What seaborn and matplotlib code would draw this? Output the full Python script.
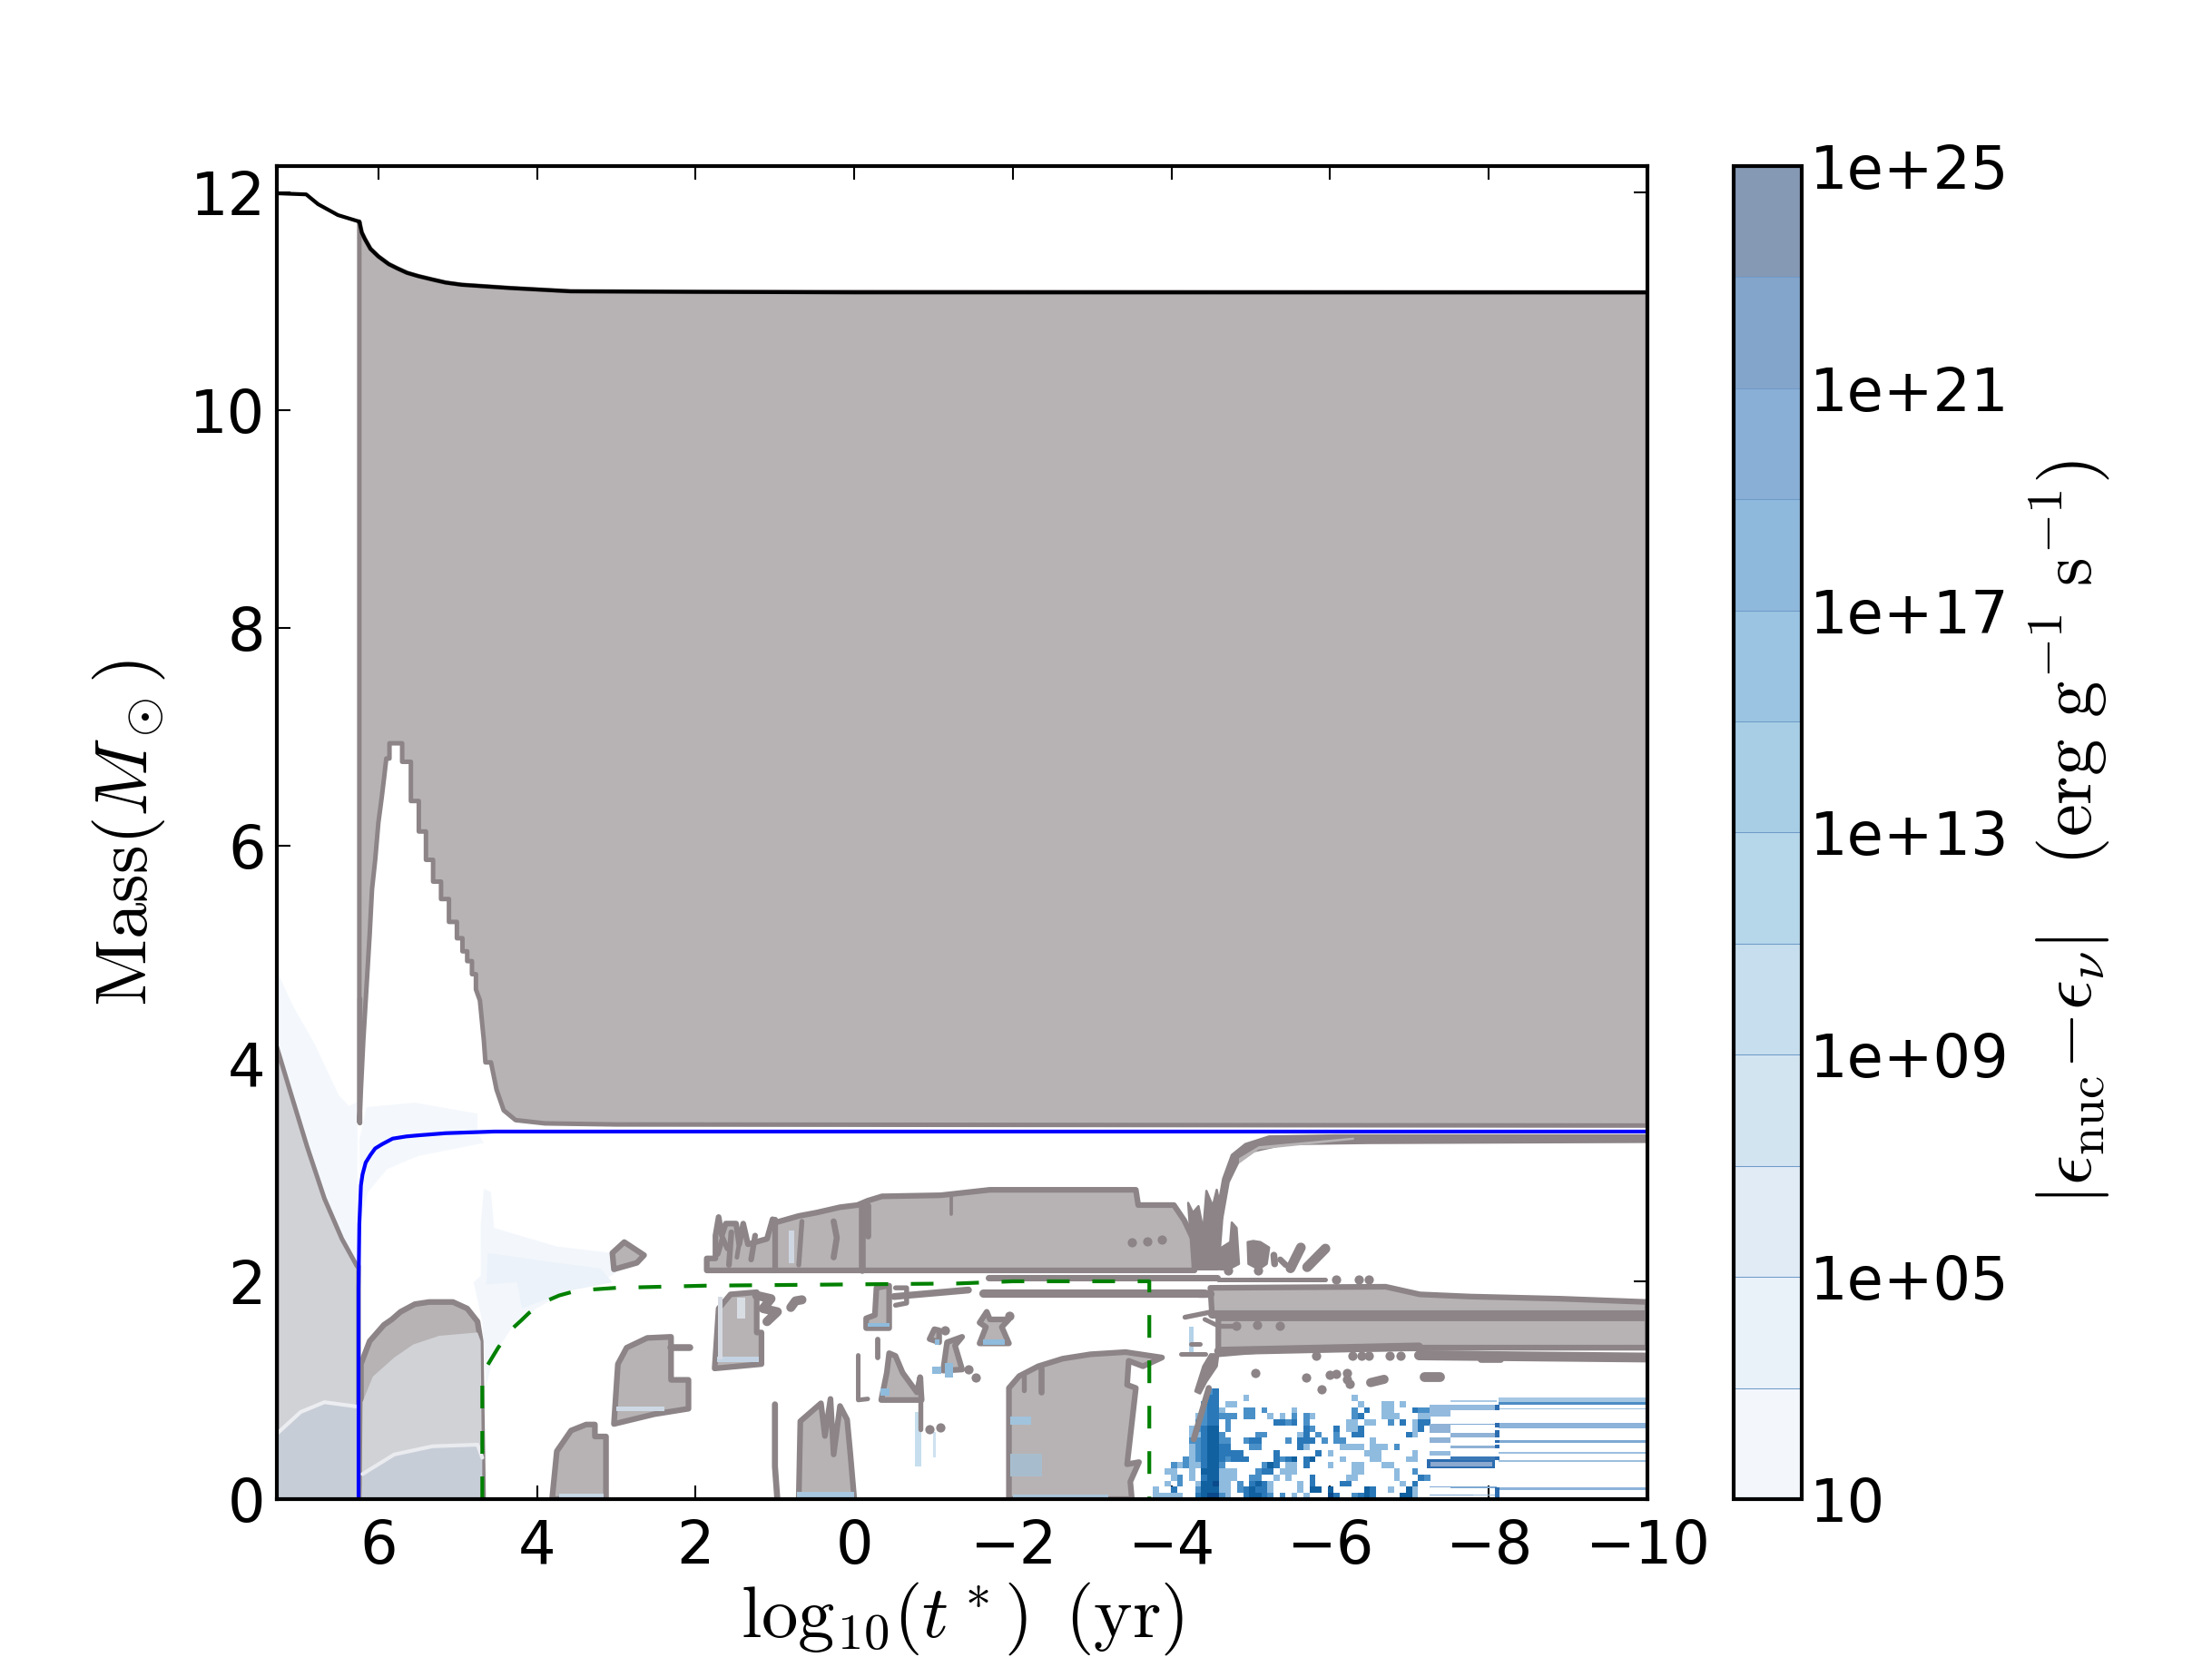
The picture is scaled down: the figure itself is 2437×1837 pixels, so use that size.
import numpy as np
import matplotlib
matplotlib.use('Agg')
import matplotlib.pyplot as plt
from matplotlib.colors import ListedColormap, BoundaryNorm
from matplotlib.cm import ScalarMappable
import seaborn as sns

## Data ##
# surface, he core and co core boundaries (log time, mass)
SURF_X = [7.28, 6.91, 6.76, 6.51, 6.24, 6.21, 6.17, 6.10, 6.0, 5.87, 5.76, 5.64, 5.5, 5.33, 5.15, 4.95, 4.34, 3.58, 2.0, 0.0, -10.0]
SURF_Y = [11.99, 11.98, 11.89, 11.79, 11.73, 11.63, 11.57, 11.48, 11.41, 11.34, 11.30, 11.26, 11.23, 11.20, 11.17, 11.15, 11.12, 11.09, 11.085, 11.08, 11.08]
HE_X = [6.25, 6.25, 6.24, 6.22, 6.20, 6.16, 6.10, 6.04, 5.95, 5.82, 5.65, 5.50, 5.15, 4.54, -10.0]
HE_Y = [0.0, 1.93, 2.52, 2.88, 2.98, 3.09, 3.16, 3.22, 3.26, 3.31, 3.33, 3.34, 3.36, 3.375, 3.375]
CO_X = [4.69, 4.69, 4.49, 4.40, 4.32, 4.20, 4.10, 3.98, 3.88, 3.72, 3.57, 3.3, 3.0, 1.87, -1.3, -2.0, -3.72, -3.72]
CO_Y = [0.0, 1.15, 1.39, 1.48, 1.56, 1.64, 1.71, 1.77, 1.82, 1.87, 1.90, 1.925, 1.94, 1.96, 1.98, 2.0, 2.0, 0.0]

# convective envelope with the notch in it
ENVELOPE = [(6.24, 11.73), (6.21, 11.63), (6.17, 11.57), (6.10, 11.48), (6.0, 11.41), (5.87, 11.34), (5.76, 11.30), (5.64, 11.26), (5.5, 11.23), (5.33, 11.20), (5.15, 11.17), (4.95, 11.15),
            (4.34, 11.12), (3.58, 11.09), (2.0, 11.085), (-10.0, 11.08), (-10.0, 3.43), (3.0, 3.44), (3.90, 3.45),
            (4.27, 3.48), (4.42, 3.57), (4.51, 3.76), (4.58, 4.01), (4.65, 4.01), (4.67, 4.21), (4.72, 4.58),
            (4.77, 4.68), (4.77, 4.82), (4.82, 4.82), (4.82, 4.94), (4.88, 4.94), (4.88, 5.03), (4.94, 5.03),
            (4.94, 5.15), (5.01, 5.15), (5.01, 5.30), (5.11, 5.30), (5.11, 5.51), (5.21, 5.51), (5.21, 5.67),
            (5.31, 5.67), (5.31, 5.87), (5.40, 5.87), (5.40, 6.13), (5.49, 6.13), (5.49, 6.41), (5.59, 6.41),
            (5.59, 6.77), (5.70, 6.77), (5.70, 6.94), (5.86, 6.94), (5.86, 6.80), (5.90, 6.80), (5.93, 6.61),
            (5.96, 6.43), (6.00, 6.21), (6.04, 5.87), (6.08, 5.60), (6.11, 5.18), (6.19, 4.21), (6.24, 3.46)]

LEFT_ZONE = [(7.28, 0.0), (6.25, 0.0), (6.25, 2.14), (6.27, 2.14), (6.46, 2.39), (6.68, 2.76), (6.90, 3.24), (7.11, 3.74), (7.28, 4.15)]
LEFT_LOW = [(7.28, 0.0), (6.25, 0.0), (6.27, 0.85), (6.68, 0.89), (6.98, 0.80), (7.25, 0.62), (7.28, 0.60)]
CORE_ZONE = [(6.22, 0.0), (6.22, 1.24), (6.11, 1.45), (5.93, 1.60), (5.83, 1.65), (5.72, 1.72), (5.54, 1.79), (5.36, 1.81),
             (5.06, 1.81), (4.88, 1.75), (4.75, 1.63), (4.71, 1.45), (4.68, 0.0)]
CORE_MID = [(6.21, 0.0), (6.20, 0.89), (6.07, 1.125), (5.80, 1.30), (5.56, 1.42), (5.23, 1.50), (4.75, 1.53), (4.71, 1.45), (4.69, 0.0)]
CORE_LOW = [(6.21, 0.0), (6.20, 0.23), (5.80, 0.41), (5.32, 0.485), (4.75, 0.50), (4.69, 0.38), (4.69, 0.0)]
LEFT_BURN_X = [7.28, 7.25, 6.98, 6.68, 6.27]
LEFT_BURN_Y = [0.60, 0.62, 0.80, 0.89, 0.85]
CORE_BURN_X = [6.20, 5.80, 5.32, 4.75, 4.69]
CORE_BURN_Y = [0.23, 0.41, 0.485, 0.50, 0.38]

# faint burning haze
HAZE_A = [(7.28, 4.85), (7.07, 4.52), (6.81, 4.19), (6.50, 3.71), (6.37, 3.61), (6.26, 3.65), (6.27, 2.14), (6.46, 2.39),
          (6.68, 2.76), (6.90, 3.24), (7.11, 3.74), (7.28, 4.15)]
HAZE_B = [(6.15, 3.60), (5.54, 3.64), (4.75, 3.54), (4.75, 3.36), (4.67, 3.27), (5.50, 3.15), (5.89, 3.03), (6.13, 2.82), (6.22, 2.58), (6.24, 3.30)]
HAZE_C = [(4.67, 2.85), (4.58, 2.82), (4.54, 2.49), (3.75, 2.32), (3.05, 2.26), (3.00, 2.08), (3.20, 1.99), (3.62, 1.91), (4.01, 1.75),
          (4.32, 1.57), (4.54, 1.33), (4.64, 1.04), (4.69, 1.63), (4.80, 1.99), (4.71, 2.05), (4.71, 2.52)]
HAZE_D = [(4.62, 2.26), (3.75, 2.17), (3.20, 2.12), (3.05, 1.99), (3.62, 1.91), (4.19, 1.75), (4.25, 1.99), (4.64, 1.97)]

# convective islands
SHELL = [(1.86, 2.10), (1.86, 2.21), (1.75, 2.21), (1.75, 2.42), (1.71, 2.59), (1.67, 2.42), (1.62, 2.53), (1.49, 2.53), (1.45, 2.34),
         (1.40, 2.53), (1.34, 2.34), (1.10, 2.39), (1.03, 2.57), (0.99, 2.54), (0.70, 2.60), (0.48, 2.63), (0.18, 2.68), (-0.04, 2.70),
         (-0.17, 2.74), (-0.35, 2.78), (-1.09, 2.79), (-1.71, 2.84), (-3.55, 2.84), (-3.58, 2.70), (-4.03, 2.70), (-4.16, 2.56),
         (-4.29, 2.36), (-4.29, 2.10)]
ISLAND = [(3.03, 2.11), (3.05, 2.26), (2.90, 2.36), (2.65, 2.24), (2.74, 2.17)]
BLOB_A = [(3.03, 0.69), (2.98, 1.24), (2.87, 1.39), (2.61, 1.48), (2.31, 1.49), (2.31, 1.095), (2.09, 1.095), (2.09, 0.83), (2.52, 0.78)]
BLOB_B = [(3.81, 0.0), (3.75, 0.44), (3.57, 0.63), (3.38, 0.685), (3.27, 0.685), (3.27, 0.575), (3.13, 0.575), (3.13, 0.0)]
BLOB_C = [(1.76, 1.20), (1.71, 1.75), (1.56, 1.88), (1.23, 1.90), (1.23, 1.53), (1.17, 1.53), (1.17, 1.24)]
BLOB_D = [(0.70, 0.0), (0.68, 0.715), (0.42, 0.88), (0.37, 0.58), (0.30, 0.92), (0.26, 0.41), (0.18, 0.855), (0.09, 0.73), (0.05, 0.42), (0.0, 0.0)]
BLOB_E = [(-0.15, 1.57), (-0.15, 1.66), (-0.26, 1.69), (-0.28, 1.94), (-0.44, 1.96), (-0.44, 1.57)]
BLOB_F = [(-0.34, 0.91), (-0.41, 1.16), (-0.44, 1.34), (-0.52, 1.315), (-0.61, 1.16), (-0.79, 0.98), (-0.83, 1.12), (-0.85, 0.91)]
BLOB_G = [(-0.95, 1.47), (-1.01, 1.56), (-1.07, 1.55), (-1.07, 1.44)]
BLOB_H = [(-1.12, 1.18), (-1.17, 1.44), (-1.36, 1.49), (-1.27, 1.41), (-1.36, 1.19)]
BLOB_I = [(-1.58, 1.43), (-1.66, 1.58), (-1.58, 1.62), (-1.67, 1.72), (-1.71, 1.65), (-1.95, 1.65), (-1.86, 1.58), (-1.95, 1.43)]
BLOB_J = [(-1.95, 0.0), (-1.95, 1.02), (-2.08, 1.13), (-2.32, 1.22), (-2.63, 1.29), (-2.98, 1.33), (-3.42, 1.35), (-3.88, 1.30),
          (-3.64, 1.22), (-3.46, 1.27), (-3.44, 1.05), (-3.55, 1.02), (-3.44, 0.32), (-3.59, 0.34), (-3.48, 0.16), (-3.50, 0.0)]
UPPER_BAND = [(-4.49, 1.94), (-6.70, 1.95), (-7.13, 1.88), (-7.76, 1.86), (-8.90, 1.84), (-10.0, 1.81), (-10.0, 1.70), (-4.51, 1.70)]
LOWER_BAND = [(-4.59, 1.66), (-10.0, 1.66), (-10.0, 1.39), (-8.0, 1.39), (-6.5, 1.38), (-5.4, 1.38), (-4.59, 1.33)]
ISLANDS = [SHELL, ISLAND, BLOB_A, BLOB_B, BLOB_C, BLOB_D, BLOB_E, BLOB_F, BLOB_G, BLOB_H, BLOB_I, BLOB_J, UPPER_BAND, LOWER_BAND]

# solid dark patches around the -4.5 flash
BURST_A = [(-4.27, 2.11), (-4.21, 2.72), (-4.27, 2.63), (-4.34, 2.69), (-4.40, 2.47), (-4.44, 2.83), (-4.52, 2.69), (-4.57, 2.84), (-4.64, 2.58), (-4.59, 2.11)]
BURST_B = [(-4.61, 2.11), (-4.61, 2.30), (-4.74, 2.36), (-4.76, 2.54), (-4.82, 2.49), (-4.85, 2.16), (-4.72, 2.11)]
BURST_C = [(-4.97, 2.16), (-4.96, 2.36), (-5.03, 2.37), (-5.12, 2.36), (-5.23, 2.31), (-5.20, 2.16), (-5.10, 2.11)]
BURST_D = [(-4.59, 1.33), (-4.49, 1.33), (-4.40, 1.22), (-4.30, 0.99), (-4.36, 0.97), (-4.44, 1.08), (-4.57, 1.22)]
CURVE_BAND = [(-4.57, 2.61), (-4.65, 2.94), (-4.76, 3.16), (-4.93, 3.26), (-5.23, 3.33), (-6.07, 3.34), (-10.0, 3.34), (-10.0, 3.28),
              (-6.49, 3.27), (-5.44, 3.26), (-5.01, 3.19), (-4.84, 3.09), (-4.72, 2.91), (-4.64, 2.58)]
CURVE_LIGHT = [(-4.85, 3.13), (-5.10, 3.24), (-6.30, 3.32), (-6.30, 3.30), (-5.10, 3.21), (-4.85, 3.08)]
BURSTS = [BURST_A, BURST_B, BURST_C, BURST_D, CURVE_BAND]

# thick strokes: x list, y list, width
STROKES = [([-1.69, -4.58], [2.03, 2.03], 1.7), ([-4.59, -5.94], [2.02, 2.02], 1.2), ([-1.62, -4.42], [1.89, 1.89], 2.2),
           ([-0.50, -1.44], [1.86, 1.92], 1.8), ([-4.35, -4.49], [1.88, 1.88], 2.0), ([-4.51, -10.0], [1.70, 1.70], 2.2),
           ([-4.17, -4.51], [1.67, 1.72], 1.3), ([-4.42, -4.59], [1.65, 1.59], 1.2), ([-4.59, -4.82], [1.59, 1.59], 1.3),
           ([-4.59, -7.12], [1.36, 1.40], 2.2), ([-7.12, -10.0], [1.40, 1.40], 1.0), ([-7.12, -10.0], [1.32, 1.30], 2.6),
           ([-7.90, -8.15], [1.28, 1.28], 1.6), ([-5.29, -5.30], [2.24, 2.16], 1.8), ([-5.37, -5.44], [2.20, 2.15], 1.6),
           ([-5.50, -5.63], [2.12, 2.31], 2.6), ([-5.71, -5.94], [2.13, 2.30], 2.6), ([-6.51, -6.68], [1.07, 1.10], 2.4),
           ([-7.18, -7.38], [1.125, 1.125], 2.6), ([-4.28, -4.47], [0.55, 1.02], 1.6), ([-4.12, -4.43], [1.33, 1.33], 1.2),
           ([-4.24, -4.36], [1.425, 1.425], 1.2), ([1.0, 1.0, 0.97], [0.87, 0.30, 0.0], 1.6), ([-0.83, -0.83], [1.12, 0.645], 1.3),
           ([-0.05, -0.05, -0.17], [1.32, 0.91, 0.92], 1.2), ([-0.30, -0.30], [1.47, 1.30], 1.4), ([2.31, 2.07], [1.39, 1.39], 1.8),
           ([1.23, 1.05, 1.15, 0.97, 1.10], [1.87, 1.84, 1.75, 1.72, 1.63], 2.4), ([0.80, 0.74, 0.66], [1.76, 1.82, 1.83], 2.4),
           ([-0.52, -0.66, -0.66, -0.52], [1.94, 1.94, 1.80, 1.78], 1.3), ([1.0, 1.0], [2.10, 2.57], 1.5),
           ([-0.10, -0.10], [2.10, 2.70], 1.8), ([-0.17, -0.17], [2.42, 2.70], 1.6), ([0.26, 0.22, 0.26], [2.55, 2.40, 2.22], 1.6),
           ([1.58, 1.55], [2.15, 2.45], 1.5), ([1.30, 1.25], [2.20, 2.42], 1.5), ([-2.14, -2.14], [1.0, 1.13], 1.3), ([-2.36, -2.36], [0.98, 1.2], 1.6),
           ([1.72, 1.66, 1.60], [2.25, 2.40, 2.30], 1.4), ([1.48, 1.42], [2.22, 2.48], 1.2), ([0.70, 0.66], [2.15, 2.55], 1.3),
           ([-1.22, -1.22], [2.62, 2.78], 0.9), ([6.24, 6.24], [3.46, 4.6], 1.3)]
DOT_X = [-5.06, -5.70, -6.00, -6.08, -6.21, -6.21, -6.25, -5.89, -5.82, -6.28, -6.39, -6.49, -6.75, -6.89, -4.82, -5.08, -5.36, -4.71, -5.09,
         -6.07, -6.36, -6.49, -0.95, -1.09, -1.14, -1.44, -1.53, -1.96, -3.50, -3.70, -3.88]
DOT_Y = [1.16, 1.12, 1.14, 1.15, 1.155, 1.10, 1.055, 1.01, 1.32, 1.32, 1.32, 1.32, 1.32, 1.32, 1.59, 1.60, 1.59, 2.10, 2.10,
         2.02, 2.02, 2.02, 0.64, 0.66, 1.55, 1.195, 1.12, 1.68, 2.36, 2.37, 2.38]

# faint blue streaks inside the islands: x0, x1, y0, y1, colour
STREAK_LEFT = [3.0, 1.73, 1.72, 1.48, 0.83, -1.97, -1.97, -2.2, -0.76, -0.99, -0.98, 0.72, 3.72, -0.17, -0.33, -1.62, -1.02, -1.14, -3.1, -4.22]
STREAK_RIGHT = [2.39, 1.2, 1.66, 1.38, 0.76, -2.23, -2.37, -3.2, -0.84, -1.03, -1.10, 0.0, 3.16, -0.44, -0.45, -1.9, -1.07, -1.25, -2.0, -4.28]
STREAK_BOTTOM = [0.81, 1.26, 1.28, 1.66, 2.17, 0.68, 0.21, 0.01, 0.30, 0.38, 1.15, 0.02, 0.02, 1.58, 0.95, 1.42, 1.42, 1.12, 0.01, 1.32]
STREAK_TOP = [0.85, 1.31, 1.86, 1.85, 2.47, 0.76, 0.42, 0.04, 0.80, 0.62, 1.22, 0.07, 0.05, 1.62, 1.02, 1.47, 1.47, 1.25, 0.04, 1.58]
STREAK_COLOR = ['#cdd8e4', '#c3d3e3', '#d5dae2', '#d8dde4', '#ced6e1', '#a1c3dc', '#a7bdcd', '#a9c6dc', '#c6deed', '#cfe2f1', '#8fbbdc', '#a7c6df',
                '#c7d8e6', '#8fbbdc', '#8fbbdc', '#8fbbdc', '#8fbbdc', '#8fbbdc', '#a9c6dc', '#b4d2e8']

# burning speckle, one string per row from top to bottom
BURN_ROWS = [
    ".........bc",
    ".........cc....a.................a",
    "........bcc.aa....................a...aa.a",
    "........bcca...bb.b....a.........b.c..aa...cbb",
    ".......abccbbb.bb..a.a.b.ba......bc...aaa...aa",
    ".......bbcc.b.......ccbc.b......aa.aa..b.c.acc",
    "......abcdd.b............cb...c.aac........ac",
    "......aacddb.....bb.....ac.b..b..cc.......ca",
    "......bbcddbb..bcc....b.ccc.b.bb....a",
    "......abcddcc...bb......ca.....aaaa.aaa.b",
    "......abcddcccc.....c......c.a.....aaa.....a",
    ".....babcddcbccc....cbcd.cd....a....aa....aa",
    "...babaacddb......bdc.aa.c...a...aa...aa",
    "..aa..a.dddaaa...bcc.aaa.........aa.....a..b",
    "...ab.a.cddaaa..bb..a.a...c.....aa......a...cb",
    "..a.b..addeaa.b.cdca....a.c....cc........a.c",
    "a..c...bdddaa.bcdcca....a.dd.d.....dc..a..da",
    "aaaaa..cdeeba..cddcb.b.a.a...ec..bcdc....dda",
]
BURN_LEVELS = ".abcde"
BURN_COLORS = ['#8fbbdf', '#4a90c8', '#2a78b8', '#11609f', '#0a4a8c']
BURN_X_START = -3.764
BURN_X_STEP = -0.076
BURN_Y_TOP = 1.014

# horizontal burning layers after -7
BAR_X0 = [-7.25, -7.52, -7.52, -8.12, -8.12, -8.12, -7.25, -7.52, -8.12, -7.52, -7.25, -7.52, -8.12, -7.25, -8.12, -8.12, -7.22, -7.27, -7.52, -7.52, -7.25, -7.25, -7.80, -8.12, -8.12,
          -8.08, -8.08, -8.08, -8.08, -8.08, -8.08, -8.08, -8.08]
BAR_X1 = [-7.52, -8.10, -8.10, -10.0, -10.0, -10.0, -7.52, -8.10, -10.0, -8.10, -7.52, -8.10, -10.0, -7.52, -10.0, -10.0, -8.08, -8.04, -8.08, -8.10, -7.52, -7.80, -8.10, -10.0, -10.0,
          -8.13, -8.13, -8.13, -8.13, -8.13, -8.13, -8.13, -8.13]
BAR_Y0 = [0.76, 0.82, 0.895, 0.895, 0.87, 0.825, 0.61, 0.68, 0.65, 0.57, 0.52, 0.47, 0.52, 0.40, 0.42, 0.345, 0.28, 0.30, 0.36, 0.10, 0.105, 0.035, 0.03, 0.085, 0.0,
          0.82, 0.66, 0.57, 0.52, 0.47, 0.36, 0.09, 0.0]
BAR_Y1 = [0.87, 0.87, 0.905, 0.935, 0.895, 0.835, 0.69, 0.69, 0.70, 0.605, 0.57, 0.49, 0.54, 0.445, 0.43, 0.36, 0.365, 0.345, 0.39, 0.12, 0.115, 0.045, 0.04, 0.11, 0.01,
          0.87, 0.70, 0.63, 0.54, 0.50, 0.39, 0.11, 0.09]
BAR_COLOR = ['#94bade', '#94bade', '#a9c9e6', '#a5c7e3', '#4c8dc4', '#9bbfdf', '#8fb2d6', '#7fa9d3', '#8cb3d9', '#8fb2d6', '#8fb2d6', '#8fb2d6', '#7fa9d3', '#94bade', '#9bbfdf',
             '#9bbfdf', '#2b6cb0', '#8ba8cf', '#3a78b6', '#7fa9d3', '#7fa9d3', '#7fa9d3', '#9bbfdf', '#8cb3d9', '#3f82bd',
             '#2b6cb0', '#2b6cb0', '#2b6cb0', '#2b6cb0', '#2b6cb0', '#2b6cb0', '#2b6cb0', '#2b6cb0']

# colour bar
CBAR_LEVELS = [1, 3, 5, 7, 9, 11, 13, 15, 17, 19, 21, 23, 25]
CBAR_COLORS = ['#f3f7fc', '#e9f1f9', '#e0ebf5', '#d3e4f1', '#c6deed', '#b6d6ea', '#a8cee5', '#9ac4e1', '#8fb8dd', '#89afd6', '#84a5cb', '#8598b4']
CBAR_TICKS = [1, 5, 9, 13, 17, 21, 25]
CBAR_LABELS = ['10', '1e+05', '1e+09', '1e+13', '1e+17', '1e+21', '1e+25']

GREY_FILL = '#b7b3b4'
GREY_EDGE = '#8c8487'
PALE_FILL = '#d1d2d6'
PALE_LOW = '#c7cdd7'

## Plot ##
sns.set_style('ticks')
plt.rcParams['font.family'] = ['DejaVu Sans']
plt.rcParams['mathtext.fontset'] = 'cm'
plt.rcParams.update({'text.color': 'black', 'axes.labelcolor': 'black', 'xtick.color': 'black', 'ytick.color': 'black'})

fig = plt.figure(figsize=(2437 / 300, 1837 / 300), dpi=300)
ax = fig.add_axes([305 / 2437, 1 - 1652 / 1837, (1815 - 305) / 2437, (1652 - 183) / 1837])


def draw_region(points, face, edge=None, lw=0.0, z=2):
    xs, ys = zip(*points)
    ax.fill(xs, ys, facecolor=face, edgecolor=edge if edge else face, linewidth=lw, zorder=z, joinstyle='round')


def draw_line(xs, ys, color, lw, z=5, **kws):
    sns.lineplot(x=xs, y=ys, sort=False, estimator=None, color=color, linewidth=lw, ax=ax, zorder=z, **kws)


# haze first so everything else sits on it
draw_region(HAZE_A, '#f4f8fc', z=1)
draw_region(HAZE_B, '#f4f8fc', z=1)
draw_region(HAZE_C, '#f3f7fc', z=1)
draw_region(HAZE_D, '#ebf2f9', z=1)

draw_region(ENVELOPE, GREY_FILL, GREY_EDGE, 1.2)
draw_region(LEFT_ZONE, PALE_FILL, GREY_EDGE, 1.2)
draw_region(LEFT_LOW, PALE_LOW, z=3)
draw_region(CORE_ZONE, GREY_FILL, GREY_EDGE, 1.5)
draw_region(CORE_MID, PALE_FILL, z=3)
draw_region(CORE_LOW, PALE_LOW, z=3)
draw_line(LEFT_BURN_X, LEFT_BURN_Y, '#ecedf0', 1.0, z=4)
draw_line(CORE_BURN_X, CORE_BURN_Y, '#e9ebef', 1.0, z=4)

for island in ISLANDS:
    draw_region(island, GREY_FILL, GREY_EDGE, 1.5)
for burst in BURSTS:
    draw_region(burst, GREY_EDGE, GREY_EDGE, 0.6)
draw_region(CURVE_LIGHT, GREY_FILL, z=4)

ax.bar(x=STREAK_LEFT, height=np.array(STREAK_TOP) - np.array(STREAK_BOTTOM), width=np.array(STREAK_RIGHT) - np.array(STREAK_LEFT),
       bottom=STREAK_BOTTOM, align='edge', color=STREAK_COLOR, linewidth=0, zorder=4)

for xs, ys, lw in STROKES:
    draw_line(xs, ys, GREY_EDGE, lw, z=4, solid_capstyle='round')
sns.scatterplot(x=DOT_X, y=DOT_Y, color=GREY_EDGE, s=6, linewidth=0, ax=ax, zorder=4)

# burning cells
n_cols = max(len(r) for r in BURN_ROWS)
burn = np.array([[BURN_LEVELS.index(c) for c in r.ljust(n_cols, '.')] for r in BURN_ROWS], dtype=float)
burn = np.ma.masked_equal(burn, 0)
x_edges = BURN_X_START + BURN_X_STEP * np.arange(n_cols + 1)
y_edges = np.linspace(BURN_Y_TOP, 0.0, len(BURN_ROWS) + 1)
ax.pcolormesh(x_edges, y_edges, burn, cmap=ListedColormap(BURN_COLORS), vmin=0.5, vmax=5.5, linewidth=0, zorder=3)
ax.barh(y=BAR_Y0, width=np.array(BAR_X1) - np.array(BAR_X0), height=np.array(BAR_Y1) - np.array(BAR_Y0), left=BAR_X0,
        align='edge', color=BAR_COLOR, linewidth=0, zorder=3)

draw_line(HE_X, HE_Y, '#0000ff', 1.0, z=6)
draw_line(CO_X, CO_Y, '#008000', 1.0, z=6, linestyle=(0, (6, 6)))
draw_line(SURF_X, SURF_Y, 'black', 1.0, z=7)

ax.set_xlim(7.28, -10.0)
ax.set_ylim(0, 12.24)
ax.set_xticks([6, 4, 2, 0, -2, -4, -6, -8, -10])
ax.set_yticks([0, 2, 4, 6, 8, 10, 12])
ax.tick_params(axis='x', direction='in', length=3.6, width=0.5, top=True, labelsize=15.7, pad=5, color='black')
ax.tick_params(axis='y', direction='in', length=3.6, width=0.5, right=True, labelsize=15.7, pad=3, color='black')
for spine in ax.spines.values():
    spine.set_linewidth(1.0)
    spine.set_edgecolor('black')
    spine.set_zorder(10)
ax.set_xlabel(r'$\mathrm{log}_{10}(t^*)\ \,(\mathrm{yr})$', fontsize=19.4, labelpad=1)
ax.set_ylabel(r'$\mathrm{Mass}(M_\odot)$', fontsize=19.4, labelpad=6)

cax = fig.add_axes([1910 / 2437, 1 - 1652 / 1837, 75 / 2437, (1652 - 183) / 1837])
sm = ScalarMappable(norm=BoundaryNorm(CBAR_LEVELS, len(CBAR_COLORS)), cmap=ListedColormap(CBAR_COLORS))
cb = fig.colorbar(sm, cax=cax, ticks=CBAR_TICKS, spacing='uniform', drawedges=True)
cb.dividers.set_color('#6f9bc8')
cb.dividers.set_linewidth(0.25)
cb.outline.set_linewidth(1.0)
cb.outline.set_edgecolor('black')
cb.ax.minorticks_off()
cb.ax.set_yticklabels(CBAR_LABELS)
cb.ax.tick_params(direction='in', length=3.6, width=0.5, labelsize=15.7, pad=2, right=True, left=False, color='black')
cb.set_label(r'$|\epsilon_{\rm nuc}\!-\!\epsilon_{\nu}|\ \ \ (\mathrm{erg\ g^{-1}\ s^{-1}})$', fontsize=19.4, labelpad=5)

plt.savefig('out.png', dpi=300)
